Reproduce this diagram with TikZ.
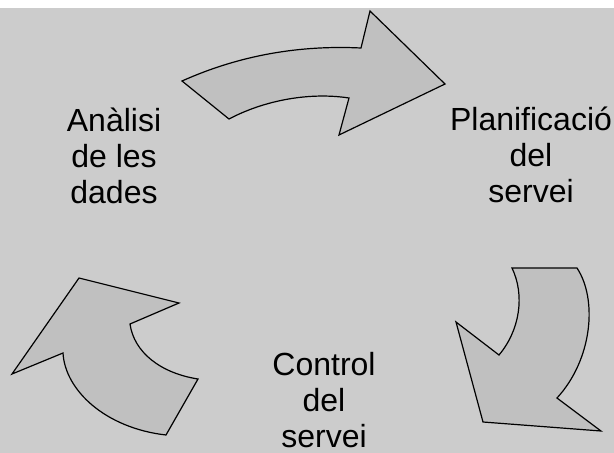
\documentclass[tikz,border=0pt]{standalone}
\usepackage{fontspec}
\setmainfont{Liberation Sans}
\usepackage{xcolor}
\usepackage{tikz}
\usetikzlibrary{positioning}
\definecolor{bggray}{HTML}{CCCCCC}
\definecolor{arrowgray}{HTML}{C0C0C0}

\begin{document}
\begin{tikzpicture}[x=1pt,y=-1pt]
\useasboundingbox (0,0) rectangle (614,453);
\fill[white] (0,0) rectangle (614,8);
\fill[bggray] (0,8) rectangle (614,453);

\tikzstyle{bent} = [draw=black, fill=arrowgray, line width=1.2pt, line join=miter];
\tikzstyle{phase} = [align=center, inner sep=0pt, anchor=base,
	font=\fontsize{32}{36}\selectfont];

% top arrow
\draw[bent] (182,81) .. controls (240,55) and (300,45) .. (361,48)
	-- (370,11) -- (445,84) -- (339,135) -- (349,98)
	.. controls (310,92) and (265,100) .. (229,119) -- cycle;
% right arrow
\draw[bent] (512,268) -- (577,268)
	.. controls (598,300) and (592,360) .. (557,398)
	-- (601,431) -- (483,422) -- (456,322) -- (499,355)
	.. controls (520,330) and (525,295) .. (512,268) -- cycle;
% left arrow
\draw[bent] (79,278) -- (179,303) -- (130,324)
	.. controls (134,352) and (160,373) .. (198,379)
	-- (166,435) .. controls (105,428) and (65,390) .. (63,353)
	-- (12,374) -- cycle;

\node[phase] (plan) at (531,202) {Planificació\\del\\servei};
\node[phase] (ctrl) at (324,447) {Control\\del\\servei};
\node[phase] (anal) at (114,203) {Anàlisi\\de les\\dades};

\end{tikzpicture}
\end{document}
